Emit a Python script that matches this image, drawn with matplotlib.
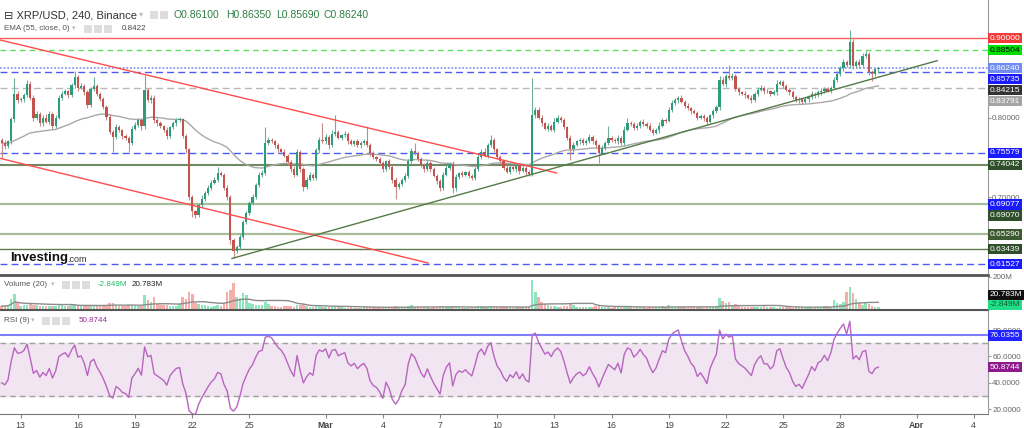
import numpy as np
import pandas as pd
import matplotlib
matplotlib.use("Agg")
import matplotlib.pyplot as plt
from matplotlib.patches import Rectangle

plt.rcParams['font.family'] = ['Liberation Sans', 'DejaVu Sans']

# ---- data (4h candles from Feb 12) ----
start = "2018-02-12 00:00"
first_open = 0.772
closes = [
    .768, .764, .770, .798, .830, .822, .823, .828, .843, .825,
    .800, .805, .793, .800, .795, .805, .790, .800, .825, .830,
    .833, .828, .841, .851, .838, .840, .832, .816, .836, .840,
    .830, .823, .814, .801, .782, .776, .788, .784, .777, .775,
    .768, .786, .791, .797, .789, .835, .822, .825, .797, .793,
    .789, .785, .777, .788, .793, .797, .798, .777, .760, .700,
    .682, .678, .690, .698, .705, .712, .718, .722, .730, .728,
    .712, .700, .646, .632, .637, .650, .668, .680, .692, .700,
    .715, .728, .730, .768, .772, .770, .765, .760, .757, .752,
    .744, .735, .728, .757, .735, .713, .722, .728, .724, .759,
    .772, .770, .776, .765, .780, .782, .775, .778, .780, .770,
    .767, .770, .765, .768, .770, .766, .755, .750, .748, .743,
    .735, .745, .738, .722, .713, .716, .722, .726, .745, .758,
    .755, .748, .740, .735, .743, .735, .727, .720, .712, .728,
    .737, .742, .711, .725, .730, .728, .731, .727, .724, .735,
    .751, .757, .752, .765, .772, .760, .750, .745, .737, .732,
    .738, .735, .740, .733, .737, .731, .729, .803, .810, .800,
    .793, .786, .790, .785, .795, .800, .797, .788, .775, .760,
    .766, .770, .772, .768, .770, .776, .770, .765, .756, .762,
    .768, .774, .772, .770, .775, .768, .785, .793, .792, .787,
    .790, .795, .792, .790, .785, .781, .784, .790, .797, .796,
    .810, .818, .822, .825, .820, .815, .812, .808, .806, .800,
    .802, .799, .795, .803, .808, .813, .848, .842, .852, .850,
    .853, .836, .832, .830, .828, .825, .822, .830, .835, .838,
    .833, .833, .830, .832, .843, .845, .840, .835, .832, .826,
    .822, .823, .820, .823, .826, .830, .828, .832, .833, .836,
    .834, .838, .848, .855, .862, .870, .866, .895, .865, .870,
    .866, .878, .880, .858, .855, .861, .8624,
]
# wick lengths beyond the body, in 0.001
wick_up = [
    3, 4, 2, 3, 20, 4, 3, 3, 4, 3,
    3, 4, 2, 3, 4, 3, 2, 3, 3, 4,
    3, 2, 3, 8, 3, 4, 2, 3, 3, 11,
    3, 2, 3, 2, 3, 2, 4, 3, 2, 3,
    2, 3, 4, 3, 2, 19, 3, 4, 3, 2,
    3, 2, 3, 2, 3, 3, 3, 2, 3, 2,
    3, 2, 3, 4, 2, 3, 4, 3, 8, 3,
    2, 3, 2, 3, 2, 3, 3, 2, 3, 4,
    3, 3, 4, 20, 4, 3, 2, 3, 2, 3,
    2, 3, 4, 3, 2, 3, 3, 4, 2, 3,
    4, 21, 3, 2, 4, 21, 3, 2, 3, 2,
    3, 2, 3, 2, 3, 19, 2, 3, 2, 3,
    3, 2, 3, 2, 3, 3, 2, 4, 3, 4,
    10, 3, 2, 3, 4, 2, 3, 2, 3, 4,
    3, 2, 3, 4, 2, 3, 2, 3, 2, 3,
    4, 3, 5, 3, 6, 3, 2, 3, 2, 3,
    3, 2, 3, 2, 3, 2, 3, 47, 4, 3,
    3, 2, 3, 2, 4, 3, 2, 3, 2, 3,
    3, 2, 3, 2, 3, 4, 2, 3, 2, 3,
    2, 15, 3, 2, 3, 2, 4, 6, 3, 2,
    3, 2, 3, 2, 3, 2, 3, 4, 3, 2,
    3, 4, 3, 2, 3, 2, 3, 2, 3, 2,
    3, 2, 3, 2, 3, 3, 4, 3, 3, 14,
    3, 2, 3, 2, 3, 2, 3, 2, 4, 3,
    2, 3, 2, 3, 4, 3, 2, 3, 2, 3,
    2, 3, 2, 3, 2, 3, 2, 3, 4, 3,
    3, 2, 3, 4, 3, 4, 3, 15, 4, 3,
    4, 3, 4, 3, 2, 2, 1.1,
]
wick_dn = [
    19, 3, 2, 3, 4, 3, 2, 3, 2, 3,
    4, 3, 3, 4, 2, 3, 4, 3, 2, 3,
    2, 3, 2, 3, 4, 2, 3, 4, 3, 2,
    3, 2, 3, 4, 3, 19, 3, 2, 4, 3,
    11, 3, 2, 3, 4, 3, 2, 3, 4, 3,
    2, 3, 4, 3, 2, 3, 2, 3, 5, 4,
    7, 4, 3, 2, 3, 2, 3, 2, 3, 2,
    3, 4, 5, 9, 3, 2, 3, 2, 3, 2,
    3, 2, 3, 2, 3, 2, 3, 4, 3, 2,
    3, 4, 3, 2, 3, 6, 3, 2, 3, 2,
    3, 2, 3, 4, 2, 3, 2, 3, 2, 3,
    2, 3, 2, 3, 2, 3, 3, 2, 3, 2,
    3, 2, 3, 4, 15, 3, 2, 3, 2, 3,
    2, 3, 2, 3, 2, 3, 2, 3, 4, 3,
    2, 3, 6, 3, 2, 3, 2, 3, 2, 3,
    2, 3, 2, 3, 2, 3, 2, 3, 3, 2,
    3, 2, 3, 4, 2, 3, 3, 2, 3, 2,
    3, 2, 3, 2, 3, 2, 3, 2, 3, 13,
    3, 2, 3, 2, 3, 2, 3, 3, 13, 2,
    3, 2, 3, 2, 3, 2, 3, 2, 3, 2,
    2, 3, 2, 3, 2, 3, 2, 3, 2, 3,
    2, 3, 2, 3, 2, 3, 2, 3, 2, 3,
    2, 3, 4, 2, 3, 2, 3, 2, 3, 2,
    3, 2, 3, 2, 3, 2, 3, 2, 3, 2,
    3, 2, 3, 2, 3, 2, 3, 2, 3, 2,
    2, 3, 3, 2, 3, 2, 3, 2, 3, 2,
    2, 3, 2, 3, 2, 3, 2, 3, 4, 3,
    3, 2, 3, 4, 9, 3, 4.1,
]
# volume in millions
volumes = [
    18, 20, 22, 60, 95, 35, 18, 22, 25, 30,
    25, 22, 20, 18, 19, 21, 20, 18, 24, 22,
    20, 19, 25, 32, 28, 22, 20, 24, 21, 23,
    19, 20, 22, 28, 35, 40, 24, 20, 19, 21,
    25, 22, 20, 19, 21, 87, 55, 45, 75, 30,
    28, 22, 24, 20, 19, 21, 30, 75, 60, 106,
    95, 40, 30, 28, 22, 18, 15, 20, 25, 18,
    30, 106, 120, 162, 75, 70, 100, 85, 40, 30,
    25, 28, 22, 45, 30, 20, 18, 15, 14, 16,
    20, 18, 15, 22, 25, 30, 18, 12, 10, 25,
    20, 15, 12, 10, 11, 18, 12, 10, 9, 8,
    10, 9, 8, 9, 10, 12, 14, 10, 9, 11,
    12, 10, 9, 15, 20, 14, 10, 9, 18, 22,
    15, 10, 9, 11, 10, 9, 12, 14, 18, 16,
    12, 10, 20, 15, 10, 9, 8, 9, 10, 12,
    20, 18, 12, 15, 18, 14, 12, 10, 12, 11,
    10, 9, 12, 11, 10, 12, 14, 180, 106, 75,
    45, 30, 25, 20, 18, 15, 14, 18, 20, 35,
    22, 15, 12, 14, 10, 12, 14, 18, 25, 15,
    12, 10, 9, 11, 10, 14, 18, 12, 10, 9,
    10, 12, 11, 9, 10, 12, 10, 14, 18, 15,
    22, 20, 15, 12, 10, 11, 12, 10, 14, 12,
    10, 9, 12, 14, 12, 15, 68, 50, 35, 45,
    25, 30, 18, 15, 12, 14, 12, 10, 11, 12,
    20, 15, 12, 10, 9, 10, 11, 12, 10, 9,
    11, 12, 10, 9, 10, 8, 10, 12, 15, 20,
    18, 15, 56, 40, 30, 45, 106, 137, 100, 60,
    35, 28, 40, 30, 20, 15, 12,
]
# RSI state carried in from before the first visible candle
rsi_seed_gain, rsi_seed_loss = 0.0050, 0.0075

# horizontal levels: value, line colour, style, width, box colour, text colour
levels = [
    (0.90000, '#ff5a5a', '-', 1.0, '#f23b3b', 'white'),
    (0.88504, '#5ee05e', (0, (4, 3)), 1.0, '#00e000', 'black'),
    (0.86240, '#8a9cf0', (0, (1, 1)), 1.3, '#6f8cf0', 'white'),
    (0.85735, '#4a5cf0', (0, (5, 3)), 1.0, '#1a1aff', 'white'),
    (0.84215, None, None, 0, '#333333', 'white'),
    (0.83791, '#b8b8b8', (0, (5, 3)), 1.0, '#a4a4a4', 'white'),
    (0.75579, '#4a5cf0', (0, (5, 3)), 1.0, '#1a1aff', 'white'),
    (0.74042, '#6f8a63', '-', 1.5, '#2f4f2a', 'white'),
    (0.69077, None, None, 0, '#1a1aff', 'white'),
    (0.69070, '#a9bd9a', '-', 1.6, '#2f4f2a', 'white'),
    (0.65290, '#a9bd9a', '-', 1.6, '#3e5a32', 'white'),
    (0.63439, '#5d7a50', '-', 1.0, '#2f4f2a', 'white'),
    (0.61527, '#4a5cf0', (0, (5, 3)), 1.0, '#1a1aff', 'white'),
]
# trend lines: (time, price) anchors
red_upper = [("2018-02-11 22:00", 0.8979), ("2018-03-13 03:00", 0.7303)]
red_lower = [("2018-02-11 22:00", 0.7488), ("2018-03-06 09:00", 0.6169)]
green_up = [("2018-02-24 02:00", 0.6226), ("2018-04-02 02:00", 0.8718)]

tick_dates = ["2018-02-13", "2018-02-16", "2018-02-19", "2018-02-22", "2018-02-25",
              "2018-03-01", "2018-03-04", "2018-03-07", "2018-03-10", "2018-03-13",
              "2018-03-16", "2018-03-19", "2018-03-22", "2018-03-25", "2018-03-28",
              "2018-04-01", "2018-04-04"]
tick_labels = ["13", "16", "19", "22", "25", "Mar", "4", "7", "10", "13", "16",
               "19", "22", "25", "28", "Apr", "4"]

rsi_line = 76.0355
rsi_last = 50.8744

# ---- build series ----
n = min(len(closes), len(wick_up), len(wick_dn), len(volumes))
c = np.array(closes[:n])
o = np.array([first_open] + closes[:n - 1])
hi = np.maximum(o, c) + np.array(wick_up[:n]) / 1000
lo = np.minimum(o, c) - np.array(wick_dn[:n]) / 1000
vol = np.array(volumes[:n], dtype=float)
idx = np.arange(n)
t0 = pd.Timestamp(start)
bar = pd.Timedelta("4h")


def pos(t):
    return (pd.Timestamp(t) - t0) / bar


ema = pd.Series(c).ewm(span=55, adjust=False).mean()
vol_ma = pd.Series(vol).rolling(20, min_periods=1).mean()
delta = pd.Series(c).diff()
g = delta.clip(lower=0)
l = -delta.clip(upper=0)
g.iloc[0] = rsi_seed_gain
l.iloc[0] = rsi_seed_loss
gain = g.ewm(alpha=1 / 9, adjust=False).mean()
loss = l.ewm(alpha=1 / 9, adjust=False).mean()
rsi = 100 - 100 / (1 + gain / loss)

up_col, dn_col = '#2e9c7a', '#c4524e'
up_wick, dn_wick = '#6fae98', '#c88a88'

W, H = 1024, 428
fig = plt.figure(figsize=(W / 100, H / 100), dpi=100)
fig.patch.set_facecolor('white')
right = 988 / W
ax = fig.add_axes([0, 1 - 273 / H, right, 273 / H])
axv = fig.add_axes([0, 1 - 309 / H, right, 34 / H])
axr = fig.add_axes([0, 1 - 414 / H, right, 104 / H])

xl = (-0.52, 310.5)
for a in (ax, axv, axr):
    a.set_xlim(*xl)
    a.set_facecolor('none')
    for s in ('left', 'top', 'bottom'):
        a.spines[s].set_visible(False)
    a.spines['right'].set_color('#9a9a9a')
    a.yaxis.tick_right()
    a.tick_params(axis='y', labelsize=5.8, labelcolor='#666666', color='#999999',
                  length=2, pad=1)

# ---- main panel ----
ax.set_ylim(0.6043, 0.94826)
for v, lc, ls, lw, bc, tc in levels:
    if lc:
        ax.axhline(v, color=lc, ls=ls, lw=lw, zorder=1)

for pts, col in ((red_upper, '#ff4d4d'), (red_lower, '#ff4d4d'), (green_up, '#557a46')):
    ax.plot([pos(p[0]) for p in pts], [p[1] for p in pts], color=col, lw=1.0, zorder=5)

ax.plot(idx, ema, color='#a9a9a9', lw=1.0, zorder=2)
upm = c >= o
ax.vlines(idx, lo, hi, colors=np.where(upm, up_wick, dn_wick), lw=0.8, zorder=3)
ax.bar(idx, np.maximum(np.abs(c - o), 0.0007), bottom=np.minimum(o, c), width=0.7,
       color=np.where(upm, up_col, dn_col), lw=0, zorder=4)

ax.set_yticks([0.7, 0.8])
ax.set_yticklabels(['0.70000', '0.80000'])
ax.set_xticks([])

box = dict(boxstyle='square,pad=0.2', ec='none')

# price labels on the right, stacked so they do not overlap
trans = ax.transData
prev = None
for v, lc, ls, lw, bc, tc in sorted(levels, key=lambda r: -r[0]):
    ypx = trans.transform((0, v))[1]
    if prev is not None and ypx > prev - 11:
        ypx = prev - 11
    prev = ypx
    fig.text(990 / W, ypx / H, f"{v:.5f}", fontsize=6, color=tc, va='center', ha='left',
             bbox=dict(box, fc=bc), zorder=10)

# ---- volume panel ----
axv.set_ylim(0, 212)
axv.bar(idx, vol, width=0.8, color=np.where(upm, '#8fe3bd', '#f7aeab'), lw=0, zorder=2)
axv.plot(idx, vol_ma, color='#8c8c8c', lw=1.0, zorder=3)
axv.spines['top'].set_visible(True)
axv.spines['top'].set_color('#555555')
axv.spines['top'].set_linewidth(2)
axv.set_yticks([200])
axv.set_yticklabels(['200M'])
axv.set_xticks([])
fig.text(990 / W, 1 - 295 / H, "20.783M", fontsize=6, color='white', va='center',
         bbox=dict(box, fc='#111111'), zorder=10)
fig.text(990 / W, 1 - 305 / H, "-2.849M", fontsize=6, color='#0a5f2c', va='center',
         bbox=dict(box, fc='#22dd88'), zorder=9)

# ---- RSI panel ----
axr.set_ylim(16.3, 95.3)
axr.axhspan(30, 70, color='#f1e5f1', zorder=0)
axr.axhline(70, color='#a0a0a0', ls=(0, (4, 3)), lw=1)
axr.axhline(30, color='#a0a0a0', ls=(0, (4, 3)), lw=1)
axr.axhline(rsi_line, color='#8080ff', lw=1.5)
axr.plot(idx, rsi, color='#b865c0', lw=1.0, zorder=3)
axr.spines['top'].set_visible(True)
axr.spines['top'].set_color('#555555')
axr.spines['top'].set_linewidth(1.5)
axr.spines['bottom'].set_visible(True)
axr.spines['bottom'].set_color('#777777')
axr.set_yticks([20, 40, 60, 80])
axr.set_yticklabels(['20.0000', '40.0000', '60.0000', '80.0000'])
axr.set_xticks([pos(d) for d in tick_dates])
axr.set_xticklabels(tick_labels)
axr.tick_params(axis='x', labelsize=6.3, labelcolor='#444444', color='#888888', length=3, pad=2)
for lab in axr.get_xticklabels():
    if lab.get_text() in ('Mar', 'Apr'):
        lab.set_fontweight('bold')
for v, bc in ((rsi_line, '#2222ff'), (rsi.iloc[-1], '#8e1b8e')):
    shown = rsi_last if bc == '#8e1b8e' else v
    ypx = axr.transData.transform((0, v))[1]
    fig.text(990 / W, ypx / H, f"{shown:.4f}", fontsize=6, color='white', va='center',
             bbox=dict(box, fc=bc), zorder=10)


# ---- header texts ----
def fx(x):
    return x / W


def fy(y):
    return 1 - y / H


def icons(x0, count, y):
    for k in range(count):
        fig.patches.append(Rectangle((fx(x0 + k * 10), fy(y + 4)), 8 / W, 8 / H,
                                     transform=fig.transFigure, fc='#dddddd', ec='none'))


fig.text(fx(4), fy(15), "⊟ XRP/USD, 240, Binance", fontsize=8, color='#333333', va='center')
fig.text(fx(139), fy(15), "▾", fontsize=6, color='#bbbbbb', va='center')
icons(150, 2, 15)
ohlc = [("O", "0.86100", 173), ("H", "0.86350", 226), ("L", "0.85690", 276), ("C", "0.86240", 323)]
for k, v, x in ohlc:
    fig.text(fx(x), fy(15), k + v, fontsize=7.5, color='#2f7d45', va='center')

fig.text(fx(4), fy(29), "EMA (55, close, 0)", fontsize=5.8, color='#555555', va='center')
fig.text(fx(72), fy(29), "▾", fontsize=5, color='#bbbbbb', va='center')
icons(84, 3, 29)
fig.text(fx(122), fy(29), "0.8422", fontsize=5.8, color='#444444', va='center')

fig.text(fx(4), fy(285), "Volume (20)", fontsize=5.8, color='#555555', va='center')
fig.text(fx(51), fy(285), "▾", fontsize=5, color='#bbbbbb', va='center')
icons(62, 3, 285)
fig.text(fx(98), fy(285), "-2.849M", fontsize=5.8, color='#22bb66', va='center')
fig.text(fx(132), fy(285), "20.783M", fontsize=5.8, color='#222222', va='center')

fig.text(fx(4), fy(321), "RSI (9)", fontsize=5.8, color='#555555', va='center')
fig.text(fx(31), fy(321), "▾", fontsize=5, color='#bbbbbb', va='center')
icons(42, 3, 321)
fig.text(fx(79), fy(321), "50.8744", fontsize=5.8, color='#9b2a9b', va='center')

fig.text(fx(10), fy(258), "Investing", fontsize=9.5, fontweight='bold', color='#111111',
         va='center')
fig.text(fx(67), fy(259), ".com", fontsize=6.5, color='#333333', va='center')

fig.savefig("out.png", dpi=100, facecolor='white')
